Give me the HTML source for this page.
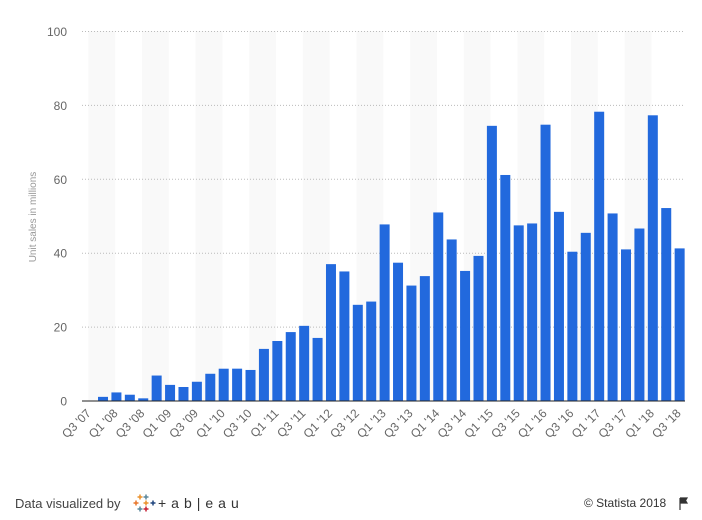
<!DOCTYPE html>
<html><head><meta charset="utf-8"><style>
body{margin:0;background:#fff;width:702px;height:515px;overflow:hidden;font-family:"Liberation Sans",sans-serif}
</style></head><body>
<svg id="s" width="702" height="515" xmlns="http://www.w3.org/2000/svg" font-family="Liberation Sans, sans-serif"></svg>
<script>
const v=[0,1.12,2.32,1.7,0.72,6.89,4.36,3.79,5.21,7.37,8.74,8.75,8.4,14.1,16.24,18.65,20.34,17.07,37.04,35.06,26.03,26.91,47.79,37.43,31.24,33.8,51.03,43.72,35.2,39.27,74.47,61.17,47.53,48.05,74.78,51.19,40.4,45.51,78.29,50.76,41.03,46.68,77.32,52.22,41.3];
let h='';
const y0=401,k=3.695,slot=13.41,c0=89.6;
for(let i=0;i<11;i++){h+=`<rect x="${88.3+i*53.64}" y="31" width="26.8" height="370" fill="#f9f9f9"/>`;}
for(let t=0;t<=100;t+=20){const y=y0-t*k;
 if(t>0)h+=`<line x1="82" x2="685" y1="${y}" y2="${y}" stroke="#bbb" stroke-dasharray="1,2"/>`;
 h+=`<text x="67" y="${y+4.5}" font-size="12" fill="#666" text-anchor="end">${t}</text>`;}
v.forEach((d,i)=>{const c=c0+i*slot;if(d>0)h+=`<rect x="${c-5}" y="${y0-d*k}" width="10" height="${d*k}" fill="#2269dd"/>`;
 if(i%2==0){const q=(i%4==0)?'Q3':'Q1';const yr=Math.floor((i+2)/4)+7;const yy=String(yr).padStart(2,'0');
  h+=`<text transform="translate(${c+2},414) rotate(-45)" font-size="12" fill="#666" text-anchor="end">${q} '${yy}</text>`;}});
h+=`<line x1="82" x2="685" y1="${y0}" y2="${y0}" stroke="#222" stroke-width="1"/>`;
h+=`<text transform="translate(36,217) rotate(-90)" font-size="10" fill="#999" text-anchor="middle">Unit sales in millions</text>`;
h+=`<text x="15" y="508" font-size="13" fill="#444">Data visualized by</text>`;
[[136,503,'#e8762b'],[146,497,'#5b879b'],[146,509,'#c72035'],[153,503,'#1f457e'],[140,497,'#eb912b'],[140,509,'#59879b'],[146,503,'#eb912b']].forEach(p=>{
 h+=`<path d="M${p[0]-2.5} ${p[1]}h5M${p[0]} ${p[1]-2.5}v5" stroke="${p[2]}" stroke-width="1.5"/>`;});
h+=`<text x="158" y="508" font-size="14" fill="#333" letter-spacing="5">+ab|eau</text>`;
h+=`<text x="584" y="507" font-size="12" fill="#333">© Statista 2018</text>`;
h+=`<path d="M680 498v12M680 498h7l-1.5 2.5l1.5 2.5h-7" fill="#333" stroke="#333" stroke-width="1.2"/>`;
document.getElementById('s').innerHTML=h;
</script>
</body></html>
